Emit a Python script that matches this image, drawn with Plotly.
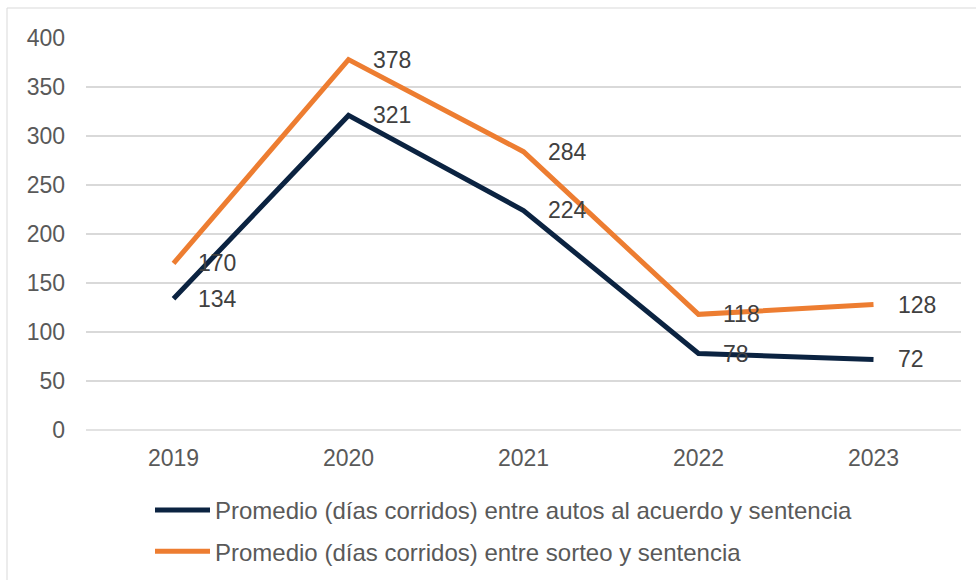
import plotly.graph_objects as go

# Average elapsed days per year
years = ["2019", "2020", "2021", "2022", "2023"]
autos_sentencia = [134, 321, 224, 78, 72]
sorteo_sentencia = [170, 378, 284, 118, 128]

name_autos = "Promedio (días corridos) entre autos al acuerdo y sentencia"
name_sorteo = "Promedio (días corridos) entre sorteo y sentencia"

navy = "#0B2341"
orange = "#ED7D31"
font_family = "Liberation Sans, Arial, sans-serif"

fig = go.Figure()
fig.add_trace(go.Scatter(
    x=years, y=autos_sentencia, mode="lines", name=name_autos,
    line=dict(color=navy, width=5), legendgroup="a",
))
fig.add_trace(go.Scatter(
    x=years, y=sorteo_sentencia, mode="lines", name=name_sorteo,
    line=dict(color=orange, width=5), legendgroup="b",
))

# Value labels to the right of each point (category index positions)
annotations = []
for series in (autos_sentencia, sorteo_sentencia):
    for i, v in enumerate(series):
        annotations.append(dict(
            x=i, y=v, xref="x", yref="y", text=str(v), showarrow=False,
            xanchor="left", yanchor="middle", xshift=22,
            font=dict(family=font_family, size=23, color="#404040"),
        ))

W, H = 976, 580
ml, mr, mt, mb = 86, 15, 38, 150
pw = W - ml - mr
ph = H - mt - mb

# Light frame around the chart area (top and left edges visible)
frame_x0 = (7 - ml) / pw
frame_y1 = (H - mb - 8) / ph

fig.update_layout(
    width=W, height=H,
    margin=dict(l=ml, r=mr, t=mt, b=mb, autoexpand=False),
    paper_bgcolor="white", plot_bgcolor="white",
    font=dict(family=font_family, size=23, color="#595959"),
    showlegend=True,
    legend=dict(
        orientation="v", xref="container", yref="container",
        x=150 / W, xanchor="left", y=1 - 488 / H, yanchor="top",
        font=dict(family=font_family, size=24, color="#595959"),
        itemwidth=55, tracegroupgap=7, bgcolor="rgba(0,0,0,0)",
    ),
    xaxis=dict(
        type="category", range=[-0.5, 4.5], showgrid=False, zeroline=False,
        showline=False, ticks="", ticklabelstandoff=12,
        tickfont=dict(size=23, color="#595959"),
    ),
    yaxis=dict(
        range=[0, 400], dtick=50, showgrid=True, gridcolor="#D9D9D9",
        gridwidth=1.5, zeroline=False, showline=False, ticks="",
        ticklabelstandoff=20, tickfont=dict(size=23, color="#595959"),
    ),
    annotations=annotations,
    shapes=[
        dict(type="line", xref="paper", yref="paper", x0=0, x1=1, y0=0, y1=0,
             line=dict(color="#D9D9D9", width=1.5), layer="below"),
        dict(type="line", xref="paper", yref="paper", x0=frame_x0, x1=1.2,
             y0=frame_y1, y1=frame_y1, line=dict(color="#D9D9D9", width=1)),
        dict(type="line", xref="paper", yref="paper", x0=frame_x0, x1=frame_x0,
             y0=frame_y1, y1=-0.5, line=dict(color="#D9D9D9", width=1)),
    ],
)

fig.write_html("out.html")
